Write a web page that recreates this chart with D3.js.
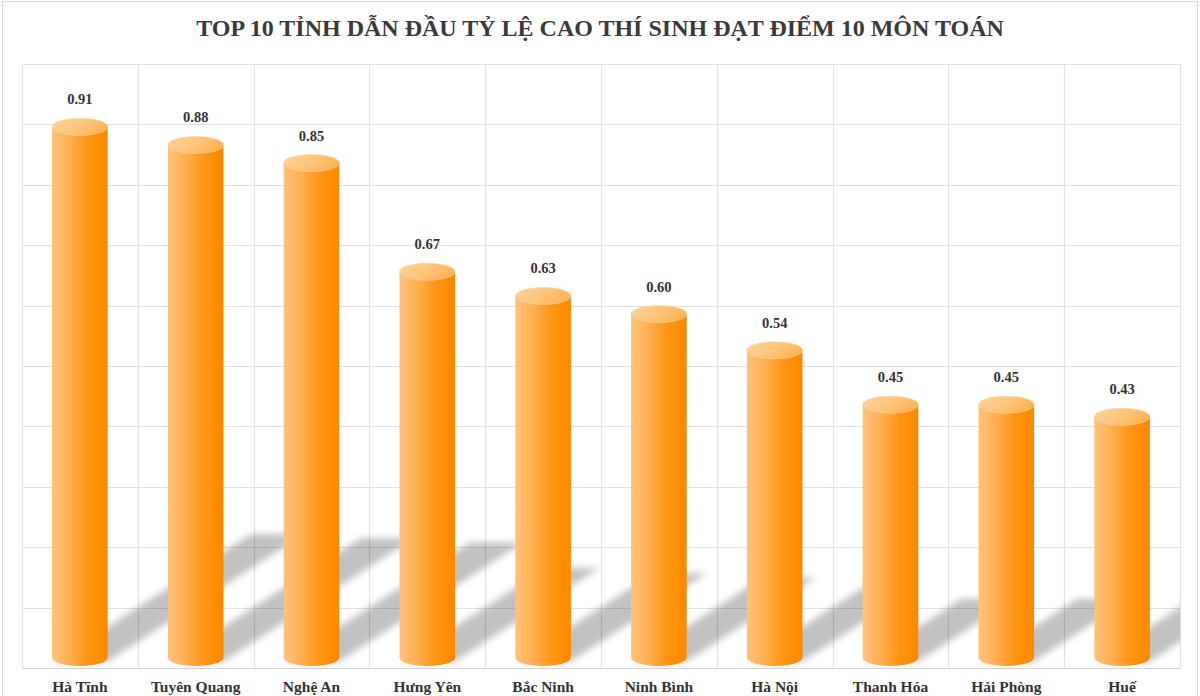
<!DOCTYPE html>
<html>
<head>
<meta charset="utf-8">
<script src="https://cdn.jsdelivr.net/npm/d3@7"></script>
<style>
  html, body { margin: 0; padding: 0; background: #fff; }
  svg { display: block; }
</style>
</head>
<body>
<svg id="chart" width="1200" height="696"></svg>
<script>
const titleText = "TOP 10 TỈNH DẪN ĐẦU TỶ LỆ CAO THÍ SINH ĐẠT ĐIỂM 10 MÔN TOÁN";
const categories = ["Hà Tĩnh", "Tuyên Quang", "Nghệ An", "Hưng Yên", "Bắc Ninh", "Ninh Bình", "Hà Nội", "Thanh Hóa", "Hải Phòng", "Huế"];
const values = [0.91, 0.88, 0.85, 0.67, 0.63, 0.60, 0.54, 0.45, 0.45, 0.43];
const valueLabels = ["0.91", "0.88", "0.85", "0.67", "0.63", "0.60", "0.54", "0.45", "0.45", "0.43"];
const gridTicks = [0, 0.1, 0.2, 0.3, 0.4, 0.5, 0.6, 0.7, 0.8, 0.9, 1.0];

const svg = d3.select("#chart");
const W = 1200, H = 696;
const plot = { left: 22, right: 1180, top: 64, bottom: 668 };

const x = d3.scaleBand().domain(categories).range([plot.left, plot.right]).paddingInner(0.52).paddingOuter(0.26);
const y = d3.scaleLinear().domain([0, 1]).range([plot.bottom, plot.top]);

const defs = svg.append("defs");
const gBody = defs.append("linearGradient").attr("id", "gBody").attr("x1", 0).attr("x2", 1).attr("y1", 0).attr("y2", 0);
[[0, "#fdc37c"], [0.35, "#ffad4a"], [0.65, "#ff9514"], [0.9, "#ff8c00"], [1, "#f98900"]].forEach(s =>
  gBody.append("stop").attr("offset", s[0]).attr("stop-color", s[1]));
const gTop = defs.append("linearGradient").attr("id", "gTop").attr("x1", 0).attr("x2", 1).attr("y1", 0).attr("y2", 0.4);
[[0, "#fdd59c"], [0.6, "#fdc479"], [1, "#fdb458"]].forEach(s =>
  gTop.append("stop").attr("offset", s[0]).attr("stop-color", s[1]));
const blur = defs.append("filter").attr("id", "blur").attr("x", "-20%").attr("y", "-20%").attr("width", "140%").attr("height", "140%");
blur.append("feGaussianBlur").attr("stdDeviation", 3.5);
defs.append("clipPath").attr("id", "plotClip").append("rect")
  .attr("x", plot.left).attr("y", plot.top).attr("width", plot.right - plot.left).attr("height", plot.bottom - plot.top);

// outer frame
svg.append("rect").attr("x", 2.5).attr("y", 1.5).attr("width", W - 5).attr("height", H + 5)
  .attr("fill", "none").attr("stroke", "#d9d9d9").attr("stroke-width", 1);

// title
svg.append("text").attr("x", W / 2).attr("y", 36).attr("text-anchor", "middle")
  .attr("font-family", "'Liberation Serif', 'DejaVu Serif', serif").attr("font-weight", "bold")
  .attr("font-size", 24).attr("fill", "#3a3a3a").text(titleText);

// gridlines
const grid = svg.append("g");
grid.selectAll("line.h").data(gridTicks).join("line")
  .attr("x1", plot.left).attr("x2", plot.right)
  .attr("y1", d => Math.round(y(d)) + 0.5).attr("y2", d => Math.round(y(d)) + 0.5)
  .attr("stroke", d => d === 0 ? "#d4d4d4" : "#e2e2e2").attr("stroke-width", 1.2);
const vEdges = categories.map(c => x(c) - x.step() * x.paddingInner() / 2);
vEdges.push(plot.right);
vEdges[0] = plot.left;
grid.selectAll("line.v").data(vEdges).join("line")
  .attr("x1", d => Math.round(d) + 0.5).attr("x2", d => Math.round(d) + 0.5)
  .attr("y1", plot.top).attr("y2", plot.bottom)
  .attr("stroke", "#e2e2e2").attr("stroke-width", 1.2);

// shadows
const bw = x.bandwidth();
const ry = 8.5;
const shadowG = svg.append("g").attr("clip-path", "url(#plotClip)");
shadowG.selectAll("path").data(values).join("path")
  .attr("d", (v, i) => {
    const h = y(0) - y(v);
    const dx = h * 0.36, dy = h * 0.233;
    const x0 = x(categories[i]) + 1, x1 = x0 + bw - 2;
    const yb = plot.bottom - 6;
    return `M${x0},${yb} L${x1},${yb} L${x1 + dx},${yb - dy} L${x0 + dx},${yb - dy} Z`;
  })
  .attr("fill", "#000").attr("opacity", 0.24).attr("filter", "url(#blur)");

// bars (cylinders)
const bars = svg.append("g");
bars.selectAll("path.body").data(values).join("path").attr("class", "body")
  .attr("d", (v, i) => {
    const x0 = x(categories[i]), x1 = x0 + bw;
    const yt = y(v) + ry;
    const yb = plot.bottom - 2 - ry;
    return `M${x0},${yt} L${x0},${yb} A${bw / 2},${ry} 0 0 0 ${x1},${yb} L${x1},${yt} Z`;
  })
  .attr("fill", "url(#gBody)");
bars.selectAll("ellipse.top").data(values).join("ellipse").attr("class", "top")
  .attr("cx", (v, i) => x(categories[i]) + bw / 2)
  .attr("cy", v => y(v) + ry)
  .attr("rx", bw / 2).attr("ry", ry)
  .attr("fill", "url(#gTop)").attr("stroke", "#fcd29a").attr("stroke-width", 0.6);

// value labels
svg.append("g").selectAll("text").data(values).join("text")
  .attr("x", (v, i) => x(categories[i]) + bw / 2)
  .attr("y", v => y(v) - 14)
  .attr("text-anchor", "middle")
  .attr("font-family", "'Liberation Serif', 'DejaVu Serif', serif").attr("font-weight", "bold")
  .attr("font-size", 14.5).attr("fill", "#333")
  .text((v, i) => valueLabels[i]);

// category labels
svg.append("g").selectAll("text").data(categories).join("text")
  .attr("x", c => x(c) + bw / 2)
  .attr("y", 692)
  .attr("text-anchor", "middle")
  .attr("font-family", "'Liberation Serif', 'DejaVu Serif', serif").attr("font-weight", "bold")
  .attr("font-size", 15.5).attr("fill", "#333")
  .text(c => c);
</script>
</body>
</html>
